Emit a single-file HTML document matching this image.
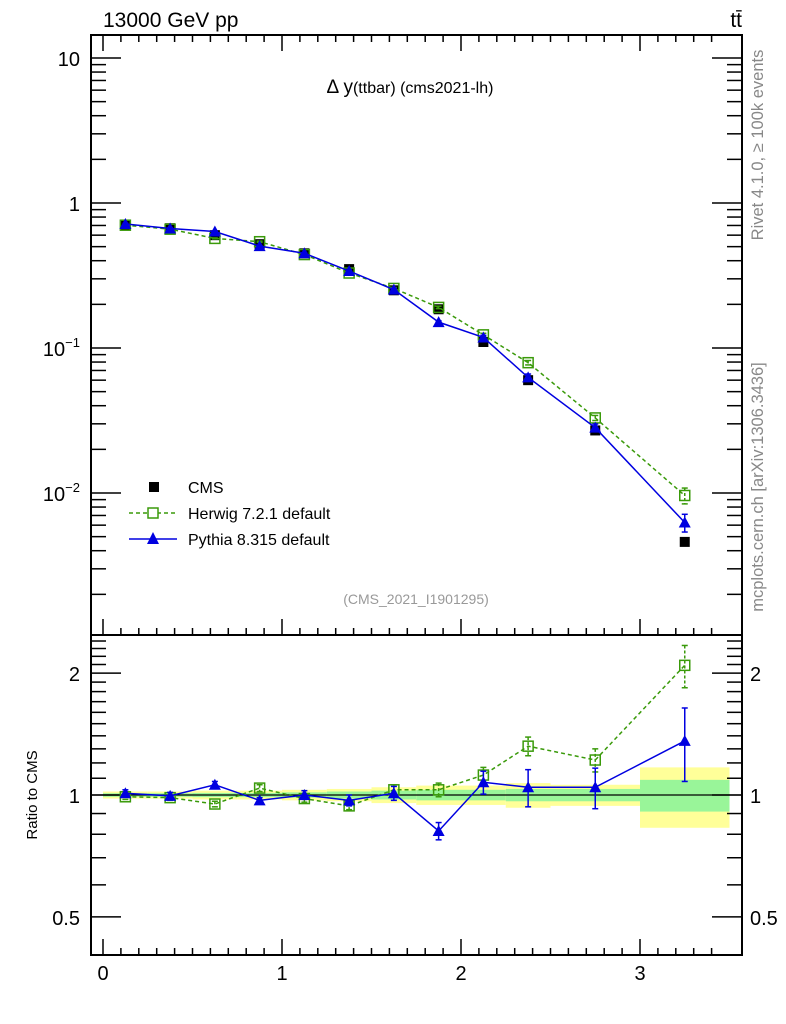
<!DOCTYPE html>
<html><head><meta charset="utf-8"><style>
body{margin:0;background:#fff;}
svg{display:block;font-family:"Liberation Sans",sans-serif;}
</style></head><body>
<svg id="c" width="786" height="1024" viewBox="0 0 786 1024" xmlns="http://www.w3.org/2000/svg">
<g id="bands"></g>
<g id="axes"></g>
<g id="series"></g>
<text x="103" y="27" font-size="21">13000 GeV pp</text>
<text x="742" y="27" font-size="21" text-anchor="end">tt̄</text>
<text x="410" y="93" font-size="19" text-anchor="middle">Δ y<tspan font-size="16">(ttbar) (cms2021-lh)</tspan></text>
<text x="416" y="604" font-size="14" fill="#999" text-anchor="middle">(CMS_2021_I1901295)</text>
<text transform="translate(763,145) rotate(-90)" font-size="16.5" fill="#888" text-anchor="middle">Rivet 4.1.0, ≥ 100k events</text>
<text transform="translate(763,487) rotate(-90)" font-size="16.5" fill="#888" text-anchor="middle">mcplots.cern.ch [arXiv:1306.3436]</text>
<text transform="translate(37,795) rotate(-90)" font-size="15" text-anchor="middle">Ratio to CMS</text>
<g id="legend">
<rect x="149" y="482" width="10" height="10" fill="#000"/>
<text x="188" y="493" font-size="16">CMS</text>
<line x1="129" y1="513" x2="177" y2="513" stroke="#3a9a0a" stroke-width="1.5" stroke-dasharray="4,3"/>
<rect x="148" y="508" width="10" height="10" fill="#fff" stroke="#3a9a0a" stroke-width="1.5"/>
<text x="188" y="519" font-size="16">Herwig 7.2.1 default</text>
<line x1="129" y1="539" x2="177" y2="539" stroke="#0000e0" stroke-width="1.5"/>
<polygon points="153,532 159,544 147,544" fill="#0000e0"/>
<text x="188" y="545" font-size="16">Pythia 8.315 default</text>
</g>
</svg>
<script>
const binEdges=[0,0.25,0.5,0.75,1,1.25,1.5,1.75,2,2.25,2.5,3,3.5];
const centers=[0.125,0.375,0.625,0.875,1.125,1.375,1.625,1.875,2.125,2.375,2.75,3.25];
const cmsValues=[0.71,0.67,0.60,0.52,0.45,0.35,0.25,0.185,0.11,0.06,0.027,0.0046];
const cmsStatErr=[0.01,0.01,0.012,0.012,0.015,0.02,0.025,0.03,0.03,0.035,0.035,0.09];
const cmsTotErr=[0.02,0.02,0.025,0.025,0.03,0.035,0.045,0.055,0.055,0.07,0.06,0.17];
const herwigRatio=[0.99,0.985,0.95,1.04,0.98,0.94,1.03,1.03,1.12,1.32,1.22,2.09];
const herwigErr=[0.015,0.015,0.015,0.02,0.02,0.02,0.03,0.04,0.05,0.07,0.08,0.25];
const pythiaRatio=[1.01,0.995,1.06,0.97,1.0,0.97,1.01,0.815,1.075,1.045,1.045,1.36];
const pythiaErr=[0.02,0.02,0.02,0.015,0.025,0.03,0.04,0.04,0.07,0.11,0.12,0.28];
const ratioTicks=[0.5,1,2];
const xTicks=[0,1,2,3];

const NS="http://www.w3.org/2000/svg";
const L=91,R=742,T=35,M=635,B=955;
const X=v=>103+v*179;
const Y=v=>203-145*Math.log10(v);
const YR=v=>795-405*Math.log10(v);
function mk(tag,attrs,parent){const e=document.createElementNS(NS,tag);for(const k in attrs)e.setAttribute(k,attrs[k]);document.getElementById(parent).appendChild(e);return e;}

for(let i=0;i<centers.length;i++){
 const x0=X(binEdges[i]),x1=X(binEdges[i+1]);
 const y=mk('rect',{x:x0,y:YR(1+cmsTotErr[i]),width:x1-x0,height:YR(1-cmsTotErr[i])-YR(1+cmsTotErr[i]),fill:'#ffff99'},'bands');
 
 
 const g=mk('rect',{x:x0,y:YR(1+cmsStatErr[i]),width:x1-x0,height:YR(1-cmsStatErr[i])-YR(1+cmsStatErr[i]),fill:'#99f599'},'bands');
 
 
}
mk('rect',{x:L,y:T,width:R-L,height:M-T,fill:'none',stroke:'#000','stroke-width':2},'axes');
mk('rect',{x:L,y:M,width:R-L,height:B-M,fill:'none',stroke:'#000','stroke-width':2},'axes');
mk('line',{x1:L,y1:YR(1),x2:R,y2:YR(1),stroke:'#000','stroke-width':1.2},'axes');
for(let v=0;v<=3.5;v+=0.1){
 const x=X(v),maj=Math.abs(v-Math.round(v))<1e-6,h=maj?16:7;
 for(const [y0,d] of [[T,1],[M,-1],[B,-1]]){mk('line',{x1:x,y1:y0,x2:x,y2:y0+d*h,stroke:'#000','stroke-width':1.5},'axes');}
}
xTicks.forEach(v=>{const t=mk('text',{x:X(v),y:980,'font-size':20,'text-anchor':'middle'},'axes');t.textContent=v;

});
for(let d=-3;d<=1;d++){for(let m=1;m<10;m++){const v=m*Math.pow(10,d),y=Y(v);if(y<T||y>M)continue;const h=m==1?30:15;
 mk('line',{x1:L,y1:y,x2:L+h,y2:y,stroke:'#000','stroke-width':1.5},'axes');mk('line',{x1:R,y1:y,x2:R-h,y2:y,stroke:'#000','stroke-width':1.5},'axes');}}
[[10,'10'],[1,'1']].forEach(([v,s])=>{const t=mk('text',{x:80,y:Y(v)+8,'font-size':20,'text-anchor':'end'},'axes');t.textContent=s;

});
[[0.1,'−1'],[0.01,'−2']].forEach(([v,e])=>{const t=mk('text',{x:80,y:Y(v)+8,'font-size':20,'text-anchor':'end'},'axes');t.innerHTML='10<tspan font-size="13" dy="-9">'+e+'</tspan>';

});
for(let v=0.4;v<=2.5;v+=0.1){const y=YR(v);if(y<M||y>B)continue;const maj=ratioTicks.some(r=>Math.abs(r-v)<1e-6),h=maj?30:15;
 mk('line',{x1:L,y1:y,x2:L+h,y2:y,stroke:'#000','stroke-width':1.5},'axes');mk('line',{x1:R,y1:y,x2:R-h,y2:y,stroke:'#000','stroke-width':1.5},'axes');}
ratioTicks.forEach(v=>{for(const [x,a] of [[80,'end'],[750,'start']]){const t=mk('text',{x:x,y:YR(v)+8,'font-size':20,'text-anchor':a},'axes');t.textContent=v;

}});

const G='#3a9a0a',Bl='#0000e0';
const hwMain=cmsValues.map((v,i)=>v*herwigRatio[i]);
const pyMain=cmsValues.map((v,i)=>v*pythiaRatio[i]);
function line(pts,color,dash,name){const p=mk('polyline',{points:pts.map(q=>q.join(',')).join(' '),fill:'none',stroke:color,'stroke-width':1.5,'stroke-dasharray':dash||'none'},'series');

}
function err(x,y0,y1,color,dash){mk('line',{x1:x,y1:y0,x2:x,y2:y1,stroke:color,'stroke-width':1.5,'stroke-dasharray':dash||'none'},'series');mk('line',{x1:x-3,y1:y0,x2:x+3,y2:y0,stroke:color,'stroke-width':1.5},'series');mk('line',{x1:x-3,y1:y1,x2:x+3,y2:y1,stroke:color,'stroke-width':1.5},'series');}
function sq(x,y,color,name){const r=mk('rect',{x:x-5,y:y-5,width:10,height:10,fill:'#fff','fill-opacity':0,stroke:color,'stroke-width':1.5},'series');
}
function tri(x,y,color,name){const p=mk('polygon',{points:`${x},${y-6} ${x+6},${y+5} ${x-6},${y+5}`,fill:color},'series');
}
centers.forEach((c,i)=>{const r=mk('rect',{x:X(c)-5,y:Y(cmsValues[i])-5,width:10,height:10,fill:'#000'},'series');

});
line(centers.map((c,i)=>[X(c),Y(hwMain[i])]),G,'4,3','herwig-line');
centers.forEach((c,i)=>{err(X(c),Y(hwMain[i]*(1+herwigErr[i]*0.5)),Y(hwMain[i]*(1-herwigErr[i]*0.5)),G,'3,2');sq(X(c),Y(hwMain[i]),G,'herwig-point');});
line(centers.map((c,i)=>[X(c),Y(pyMain[i])]),Bl,null,'pythia-line');
centers.forEach((c,i)=>{err(X(c),Y(pyMain[i]*(1+pythiaErr[i]*0.5)),Y(pyMain[i]*(1-pythiaErr[i]*0.5)),Bl);tri(X(c),Y(pyMain[i]),Bl,'pythia-point');});
line(centers.map((c,i)=>[X(c),YR(herwigRatio[i])]),G,'4,3','herwig-ratio-line');
centers.forEach((c,i)=>{err(X(c),YR(Math.min(herwigRatio[i]+herwigErr[i],2.45)),YR(herwigRatio[i]-herwigErr[i]),G,'3,2');sq(X(c),YR(herwigRatio[i]),G,'herwig-ratio-point');});
line(centers.map((c,i)=>[X(c),YR(pythiaRatio[i])]),Bl,null,'pythia-ratio-line');
centers.forEach((c,i)=>{err(X(c),YR(pythiaRatio[i]+pythiaErr[i]),YR(pythiaRatio[i]-pythiaErr[i]),Bl);tri(X(c),YR(pythiaRatio[i]),Bl,'pythia-ratio-point');});
</script>
</body></html>
